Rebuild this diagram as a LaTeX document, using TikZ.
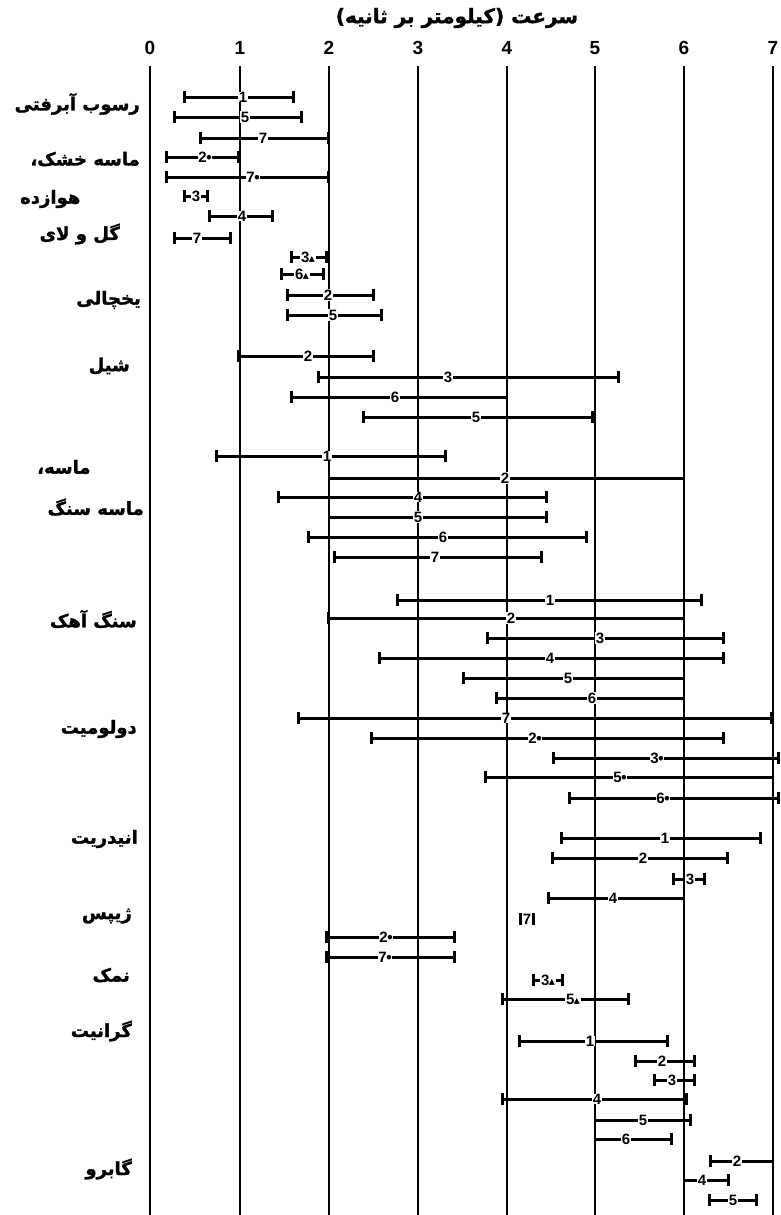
\documentclass[tikz,border=0pt]{standalone}
\usepackage{fontspec}
\setmainfont{DejaVu Sans}
\newfontfamily\fa[Script=Arabic,BoldFeatures={FakeBold=1.5}]{DejaVu Sans}
\newfontfamily\numf{Liberation Sans}
\newfontfamily\symf{DejaVu Sans}
\TeXXeTstate=1
\usetikzlibrary{arrows.meta}
\newcommand\tri{{\kern-0.5pt\symf\bfseries\fontsize{12}{12}\selectfont ▴}}
\newcommand\dotm{{\kern-2pt\symf\bfseries\fontsize{13}{13}\selectfont •\kern-1.5pt}}
\tikzset{
  vline/.style={line width=2.8pt},
  rbar/.style={line width=3pt},
  bb/.style={{Bar[width=12pt]}-{Bar[width=12pt]}},
  bn/.style={{Bar[width=12pt]}-},
  nb/.style={-{Bar[width=12pt]}},
  nn/.style={-},
  blab/.style={fill=white, inner xsep=0.6pt, inner ysep=0.3pt, font=\numf\bfseries\fontsize{15}{15}\selectfont},
  axlab/.style={inner sep=0pt, font=\numf\bfseries\fontsize{19}{19}\selectfont},
  rock/.style={inner sep=0pt, font=\fa\bfseries\fontsize{18}{18}\selectfont},
  ttl/.style={inner sep=0pt, font=\fa\bfseries\fontsize{20}{20}\selectfont},
}
\newcommand\rng[6]{%
  \draw[rbar,#6] (#2,#1) -- (#3,#1);
  \node[blab] (L#1) at (#4,#1) {#5};}
\begin{document}
\begin{tikzpicture}[x=1pt,y=-1pt]
\useasboundingbox (0,0) rectangle (780,1215);
% title
\node[ttl] (title) at (457,18) {\beginR سرعت (کیلومتر بر ثانیه)\endR};
% axis numbers and vertical lines
\foreach \v/\xx in {0/150,1/240,2/329,3/418,4/507,5/595,6/684,7/773}{
  \node[axlab] (n\v) at (\xx,48) {\v};
  \draw[vline] (\xx,66) -- (\xx,1215);
}
% rock names
\node[rock,anchor=east] (r1) at (140,104) {\beginR رسوب آبرفتی\endR};
\node[rock,anchor=east] (r2) at (140,159) {\beginR ماسه خشک،\endR};
\node[rock,anchor=west] (r3) at (20,199) {\beginR هوازده\endR};
\node[rock,anchor=east] (r4) at (120,234) {\beginR گل و لای\endR};
\node[rock,anchor=east] (r5) at (141,300) {\beginR یخچالی\endR};
\node[rock,anchor=east] (r6) at (130,366) {\beginR شیل\endR};
\node[rock,anchor=west] (r7) at (37,467) {\beginR ماسه،\endR};
\node[rock,anchor=east] (r8) at (144,507) {\beginR ماسه سنگ\endR};
\node[rock,anchor=east] (r9) at (137,619) {\beginR سنگ آهک\endR};
\node[rock,anchor=east] (r10) at (137,729) {\beginR دولومیت\endR};
\node[rock,anchor=east] (r11) at (138,839) {\beginR انیدریت\endR};
\node[rock,anchor=east] (r12) at (132,916) {\beginR ژیپس\endR};
\node[rock,anchor=east] (r13) at (130,975) {\beginR نمک\endR};
\node[rock,anchor=east] (r14) at (132,1031) {\beginR گرانیت\endR};
\node[rock,anchor=east] (r15) at (132,1169) {\beginR گابرو\endR};
% ranges: y, x1, x2, label x, label, caps
\rng{97}{183}{295}{243}{1}{bb}
\rng{117}{173}{303}{245}{5}{bb}
\rng{138}{199}{330}{263}{7}{bb}
\rng{157}{165}{240}{205}{2\dotm}{bb}
\rng{177}{165}{330}{253}{7\dotm}{bb}
\rng{196}{183}{209}{196}{3}{bb}
\rng{216}{208}{274}{242}{4}{bb}
\rng{238}{173}{232}{197}{7}{bb}
\rng{257}{290}{328}{308}{3\tri}{bb}
\rng{274}{280}{325}{302}{6\tri}{bb}
\rng{295}{286}{375}{328}{2}{bb}
\rng{315}{286}{383}{333}{5}{bb}
\rng{356}{237}{375}{308}{2}{bb}
\rng{377}{317}{620}{448}{3}{bb}
\rng{397}{290}{507}{395}{6}{bn}
\rng{417}{362}{594}{476}{5}{bb}
\rng{456}{215}{447}{327}{1}{bb}
\rng{478}{329}{684}{505}{2}{nn}
\rng{497}{277}{548}{418}{4}{bb}
\rng{517}{329}{548}{418}{5}{nb}
\rng{537}{307}{588}{443}{6}{bb}
\rng{557}{333}{543}{435}{7}{bb}
\rng{600}{396}{703}{550}{1}{bb}
\rng{618}{327}{684}{511}{2}{bn}
\rng{638}{486}{725}{600}{3}{bb}
\rng{658}{378}{725}{550}{4}{bb}
\rng{678}{462}{684}{568}{5}{bn}
\rng{698}{495}{684}{592}{6}{bn}
\rng{718}{297}{773}{506}{7}{bb}
\rng{738}{370}{725}{535}{2\dotm}{bb}
\rng{758}{552}{780}{657}{3\dotm}{bb}
\rng{777}{484}{773}{620}{5\dotm}{bn}
\rng{798}{568}{780}{663}{6\dotm}{bb}
\rng{838}{560}{762}{665}{1}{bb}
\rng{858}{551}{729}{643}{2}{bb}
\rng{879}{672}{706}{690}{3}{bb}
\rng{898}{547}{684}{613}{4}{bn}
\rng{919}{519}{535}{527}{7}{bb}
\rng{937}{325}{456}{386}{2\dotm}{bb}
\rng{957}{325}{456}{385}{7\dotm}{bb}
\rng{980}{532}{564}{548}{3\tri}{bb}
\rng{999}{501}{630}{573}{5\tri}{bb}
\rng{1041}{518}{669}{590}{1}{bb}
\rng{1061}{634}{696}{662}{2}{bb}
\rng{1080}{653}{696}{672}{3}{bb}
\rng{1099}{501}{688}{597}{4}{bb}
\rng{1120}{595}{692}{643}{5}{nb}
\rng{1139}{595}{673}{626}{6}{nb}
\rng{1161}{709}{773}{737}{2}{bn}
\rng{1180}{684}{730}{702}{4}{nb}
\rng{1200}{708}{758}{733}{5}{bb}
\end{tikzpicture}
\end{document}
